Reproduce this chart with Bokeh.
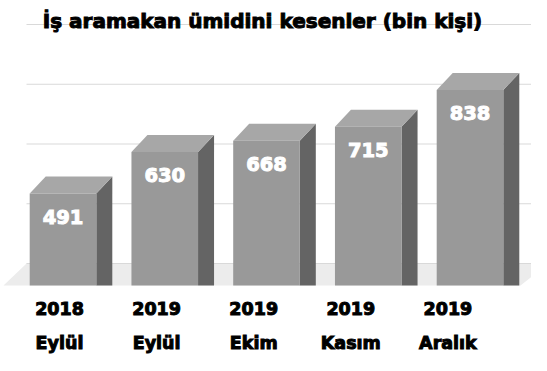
import numpy as np
from bokeh.plotting import figure
from bokeh.models import Range1d, ColumnDataSource
from bokeh.embed import file_html
from bokeh.resources import INLINE
from bokeh.core.properties import value

# ---------------- data ----------------
title_text = "İş aramakan ümidini kesenler (bin kişi)"
years = ["2018", "2019", "2019", "2019", "2019"]
months = ["Eylül", "Eylül", "Ekim", "Kasım", "Aralık"]
values = [491, 630, 668, 715, 838]
grid_values = [200, 400, 600, 800, 1000]
axis_min = 200

# ---------------- geometry (pixel constants -> data units) ----------------
W, H = 531, 355
PX_X = 101.75      # pixels per category slot
PX_Y = 0.29875     # pixels per value unit (back plane)
ORIGIN_X = 62.5    # x of first category centre
BASE_Y = 263.0     # y of axis minimum (back plane)
PAGE_OFF = 0.0

def px_to_x(px):
    return (px - ORIGIN_X) / PX_X

def py_to_y(py):
    return axis_min + (BASE_Y - py) / PX_Y

x_start = px_to_x(PAGE_OFF)
x_end = px_to_x(PAGE_OFF + W)
y_end = py_to_y(PAGE_OFF)
y_start = py_to_y(PAGE_OFF + H)

hw = 33.3 / PX_X          # half bar width
dx = 16.0 / PX_X          # depth offset x
dy = 17.0 / PX_Y          # depth offset y
floor_front = py_to_y(285.0)

p = figure(width=W, height=H, output_backend="svg", toolbar_location=None,
           x_range=Range1d(x_start, x_end), y_range=Range1d(y_start, y_end),
           x_axis_type=None, y_axis_type=None, min_border=0,
           outline_line_color=None, background_fill_color="white",
           border_fill_color="white")
p.xgrid.visible = False
p.ygrid.visible = False

# floor
fl_front_l, fl_back_l = px_to_x(3), px_to_x(26)
fl_front_r, fl_back_r = px_to_x(520), px_to_x(548)
p.patch([fl_front_l, fl_back_l, fl_back_r, fl_front_r],
        [floor_front, axis_min, axis_min, floor_front],
        fill_color="#ececec", line_color=None)

# gridlines (back plane)
gx0 = [fl_back_l] * len(grid_values)
gx1 = [x_end + 1] * len(grid_values)
p.segment(x0=gx0, y0=grid_values, x1=gx1, y1=grid_values,
          line_color="#d9d9d9", line_width=1)

# bars
idx = np.arange(len(values))
vals = np.array(values, dtype=float)
top_front = vals - dy

side_xs, side_ys, top_xs, top_ys = [], [], [], []
for i, v, tf in zip(idx, vals, top_front):
    r = i + hw
    l = i - hw
    side_xs.append([r, r + dx, r + dx, r])
    side_ys.append([tf, v, floor_front, floor_front])
    top_xs.append([l, l + dx, r + dx, r])
    top_ys.append([tf, v, v, tf])

p.patches(side_xs, side_ys, fill_color="#646464", line_color=None)
p.patches(top_xs, top_ys, fill_color="#a7a7a7", line_color=None)
p.quad(left=idx - hw, right=idx + hw, bottom=floor_front, top=top_front,
       fill_color="#999999", line_color=None)

# value labels
lab_src = ColumnDataSource(dict(x=idx, y=top_front - 23.0 / PX_Y,
                                t=[str(v) for v in values]))
p.text(x="x", y="y", text="t", source=lab_src, text_color="white",
       text_outline_color="white",
       text_font=value("DejaVu Sans"), text_font_style="bold",
       text_font_size="19.5px", text_align="center", text_baseline="middle")

# category labels
cat_x = px_to_x(59.0) + idx * (97.1 / PX_X)
p.text(x=cat_x, y=[py_to_y(308)] * len(years), text=years, text_color="black",
       text_outline_color="black",
       text_font=value("DejaVu Sans"), text_font_style="bold",
       text_font_size="17.5px", text_align="center", text_baseline="middle")
p.text(x=cat_x, y=[py_to_y(342)] * len(months), text=months, text_color="black",
       text_outline_color="black",
       text_font=value("DejaVu Sans"), text_font_style="bold",
       text_font_size="17.5px", text_align="center", text_baseline="middle")

# title
p.text(x=[px_to_x(262)], y=[py_to_y(20)], text=[title_text], text_color="black",
       text_outline_color="black",
       text_font=value("DejaVu Sans"), text_font_style="bold",
       text_font_size="20px", text_align="center", text_baseline="middle")

open("out.html", "w").write(file_html(p, INLINE))
